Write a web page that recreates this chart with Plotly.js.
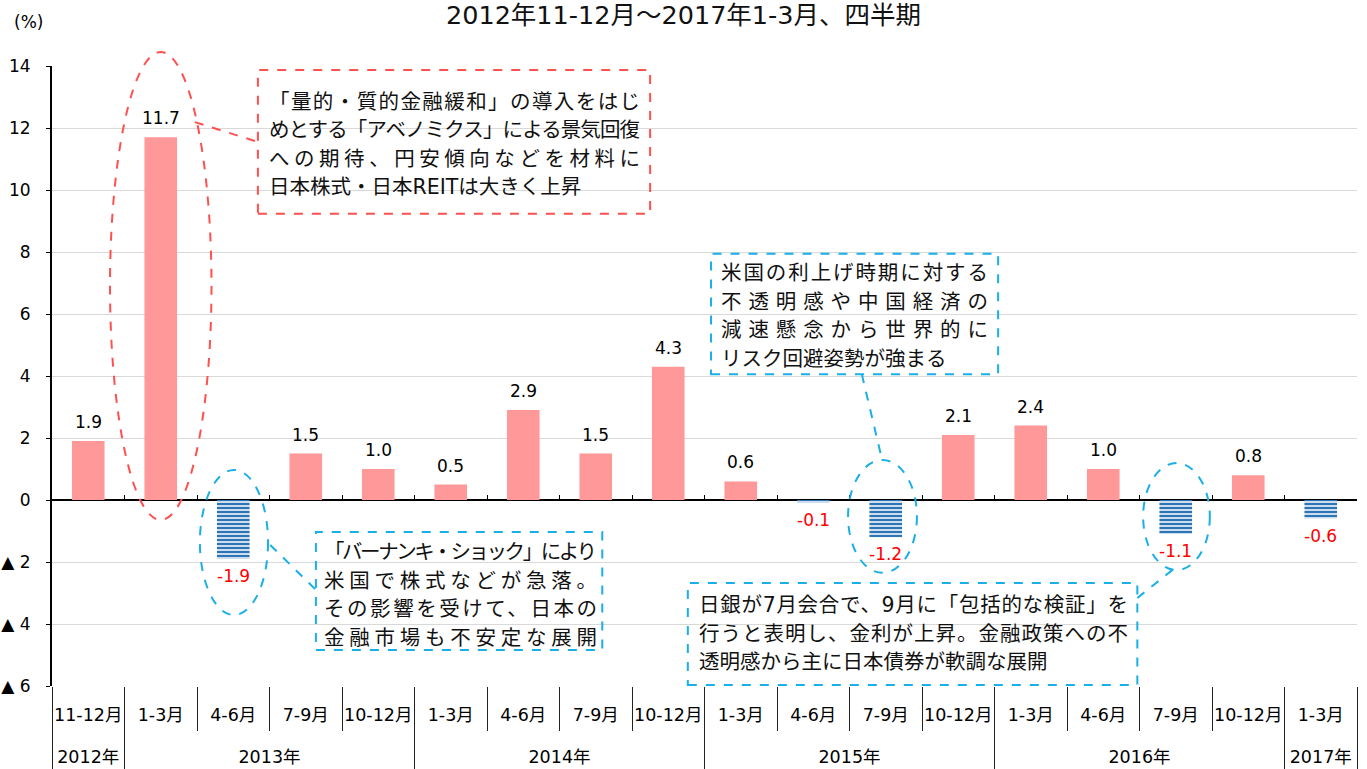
<!DOCTYPE html>
<html>
<head>
<meta charset="utf-8">
<script src="https://cdn.plot.ly/plotly-3.0.1.min.js"></script>
<style>
html,body{margin:0;padding:0;background:#fff;}
#chart{width:1367px;height:769px;}
</style>
</head>
<body>
<div id="chart"></div>
<script>
// ---- data ----
const years = ['2012年','2013年','2013年','2013年','2013年','2014年','2014年','2014年','2014年','2015年','2015年','2015年','2015年','2016年','2016年','2016年','2016年','2017年'];
const quarters = ['11-12月','1-3月','4-6月','7-9月','10-12月','1-3月','4-6月','7-9月','10-12月','1-3月','4-6月','7-9月','10-12月','1-3月','4-6月','7-9月','10-12月','1-3月'];
const changes = [1.9, 11.7, -1.9, 1.5, 1.0, 0.5, 2.9, 1.5, 4.3, 0.6, -0.1, -1.2, 2.1, 2.4, 1.0, -1.1, 0.8, -0.6];
const yTickVals = [-6, -4, -2, 0, 2, 4, 6, 8, 10, 12, 14];
const yTickText = ['▲ 6', '▲ 4', '▲ 2', '0', '2', '4', '6', '8', '10', '12', '14'];
const titleText = '2012年11-12月～2017年1-3月、四半期';
const note1 = ['「量的・質的金融緩和」の導入をはじ', 'めとする「アベノミクス」による景気回復', 'への期待、円安傾向などを材料に', '日本株式・日本REITは大きく上昇'];
const note2 = ['「バーナンキ・ショック」により', '米国で株式などが急落。', 'その影響を受けて、日本の', '金融市場も不安定な展開'];
const note3 = ['米国の利上げ時期に対する', '不透明感や中国経済の', '減速懸念から世界的に', 'リスク回避姿勢が強まる'];
const note4 = ['日銀が7月会合で、9月に「包括的な検証」を', '行うと表明し、金利が上昇。金融政策への不', '透明感から主に日本債券が軟調な展開'];

const FONT = 'DejaVu Sans, "Noto Sans CJK JP", sans-serif';
const RED = '#FF5050';
const BLUE = '#1AAFE6';
const idx = quarters.map((_, i) => i);
const N = quarters.length;

// year groups (derived from years array)
const yearNames = [], yearMembers = [], yearBounds = [-0.5];
years.forEach((y, i) => {
  if (i === 0 || years[i - 1] !== y) { yearNames.push(y); yearMembers.push([i]); if (i > 0) yearBounds.push(i - 0.5); }
  else yearMembers[yearMembers.length - 1].push(i);
});
yearBounds.push(N - 0.5);
const yearMid = yearMembers.map(a => (a[0] + a[a.length - 1]) / 2);
const qBounds = idx.map(i => i - 0.5).concat([N - 0.5]);

const posTrace = {
  type: 'bar', xaxis: 'x', yaxis: 'y',
  x: idx, y: changes.map(v => v >= 0 ? v : null),
  width: 0.45,
  marker: {color: '#FF9999', line: {width: 0}},
  hoverinfo: 'skip', showlegend: false
};
const negTrace = {
  type: 'bar', xaxis: 'x', yaxis: 'y',
  x: idx, y: changes.map(v => v < 0 ? v : null),
  width: 0.45,
  marker: {color: '#DCE9F5', line: {width: 0},
    pattern: {shape: '-', fgcolor: '#2E75B6', bgcolor: '#DCE9F5', size: 4, solidity: 0.55}},
  hoverinfo: 'skip', showlegend: false
};
function ghost(ax) {
  return {type: 'scatter', mode: 'markers', xaxis: ax, yaxis: 'y', x: [0, N - 1], y: [0, 0],
    marker: {opacity: 0, size: 1}, hoverinfo: 'skip', showlegend: false};
}

const annotations = [];
changes.forEach((v, i) => {
  annotations.push({
    xref: 'x', yref: 'y', x: i, y: v,
    text: v.toFixed(1), showarrow: false,
    xanchor: 'center', yanchor: v >= 0 ? 'bottom' : 'top',
    yshift: v >= 0 ? 7 : -5,
    font: {family: FONT, size: 17, color: v >= 0 ? '#000' : '#FF0000'}
  });
});
const LSTEP = 28.5 / 31; // line step in y units
const justifyJobs = [];
function note(lines, x, yFirst, rightPx, justify) {
  lines.forEach((t, k) => {
    if (justify[k]) justifyJobs.push({index: annotations.length, right: rightPx, n: Array.from(t).length});
    annotations.push({xref: 'x', yref: 'y', x: x, y: yFirst - k * LSTEP, text: t, showarrow: false,
      xanchor: 'left', yanchor: 'middle', align: 'left',
      font: {family: FONT, size: 20.5, color: '#111'}});
  });
}
note(note1, 2.46, 12.85, 640, [1, 1, 1, 0]);
note(note2, 3.22, -1.68, 597, [1, 1, 1, 1]);
note(note3, 8.70, 7.32, 988, [1, 1, 1, 0]);
note(note4, 8.39, -3.39, 1128, [1, 1, 0]);
annotations.push({xref: 'paper', yref: 'paper', x: -0.031, y: (686 - 22) / 620, text: '(%)', showarrow: false,
  xanchor: 'left', yanchor: 'middle', font: {family: FONT, size: 17, color: '#000'}});

const dl = (c) => ({color: c, width: 2, dash: 'dash'});
const py = (p) => (686 - p) / 620; // paper y helper for the shape outside plot top
const shapes = [
  {type: 'rect', xref: 'x', yref: 'y', x0: 2.34, x1: 7.75, y0: 9.23, y1: 13.87, line: dl(RED)},
  {type: 'circle', xref: 'x', yref: 'paper', x0: 0.30, x1: 1.70, y0: py(520), y1: py(52), line: dl(RED)},
  {type: 'line', xref: 'x', yref: 'y', x0: 1.47, x1: 2.34, y0: 12.19, y1: 11.55, line: dl(RED)},

  {type: 'rect', xref: 'x', yref: 'y', x0: 3.14, x1: 7.09, y0: -4.84, y1: -1.03, line: dl(BLUE)},
  {type: 'circle', xref: 'x', yref: 'y', x0: 1.54, x1: 2.48, y0: -3.71, y1: 0.97, line: dl(BLUE)},
  {type: 'line', xref: 'x', yref: 'y', x0: 2.51, x1: 3.14, y0: -1.45, y1: -2.90, line: dl(BLUE)},

  {type: 'rect', xref: 'x', yref: 'y', x0: 8.59, x1: 12.55, y0: 4.06, y1: 7.94, line: dl(BLUE)},
  {type: 'circle', xref: 'x', yref: 'y', x0: 10.48, x1: 11.43, y0: -2.35, y1: 1.29, line: dl(BLUE)},
  {type: 'line', xref: 'x', yref: 'y', x0: 10.67, x1: 10.95, y0: 4.06, y1: 1.29, line: dl(BLUE)},

  {type: 'rect', xref: 'x', yref: 'y', x0: 8.27, x1: 14.47, y0: -5.97, y1: -2.68, line: dl(BLUE)},
  {type: 'circle', xref: 'x', yref: 'y', x0: 14.55, x1: 15.47, y0: -2.26, y1: 1.19, line: dl(BLUE)},
  {type: 'line', xref: 'x', yref: 'y', x0: 14.47, x1: 14.99, y0: -3.16, y1: -2.19, line: dl(BLUE)}
];

const RANGE = [-0.5, N - 0.5];
const baseX = {range: RANGE, showgrid: false, zeroline: false, showline: false, fixedrange: true, automargin: false};
const layout = {
  width: 1367, height: 769,
  margin: {l: 52, r: 10, t: 66, b: 83},
  paper_bgcolor: '#fff', plot_bgcolor: '#fff',
  font: {family: FONT, color: '#000'},
  title: {text: titleText, x: 0.5, xref: 'container', y: 1 - 15 / 769, yref: 'container', yanchor: 'middle',
    font: {family: FONT, size: 25.5, color: '#111'}},
  barmode: 'overlay',
  xaxis: Object.assign({}, baseX, {
    tickmode: 'array', tickvals: idx, ticktext: quarters, ticks: '', tickangle: 0,
    ticklabelstandoff: 16, tickfont: {family: FONT, size: 17.5, color: '#000'}
  }),
  xaxis2: Object.assign({}, baseX, {
    overlaying: 'x', anchor: 'free', position: 0.3,
    tickmode: 'array', tickvals: qBounds, ticks: 'inside', ticklen: 5, tickcolor: '#000', tickwidth: 1,
    showticklabels: false
  }),
  xaxis3: Object.assign({}, baseX, {
    overlaying: 'x', anchor: 'free', position: 0,
    tickmode: 'array', tickvals: yearMid, ticktext: yearNames, ticks: '', tickangle: 0,
    ticklabelstandoff: 58, tickfont: {family: FONT, size: 17.5, color: '#000'}
  }),
  xaxis4: Object.assign({}, baseX, {
    overlaying: 'x', anchor: 'free', position: 0,
    tickmode: 'array', tickvals: qBounds, ticks: 'outside', ticklen: 44, tickcolor: '#222', tickwidth: 1,
    showticklabels: false
  }),
  xaxis5: Object.assign({}, baseX, {
    overlaying: 'x', anchor: 'free', position: 0,
    tickmode: 'array', tickvals: yearBounds, ticks: 'outside', ticklen: 90, tickcolor: '#222', tickwidth: 1,
    showticklabels: false
  }),
  yaxis: {
    range: [-6, 14], tickmode: 'array', tickvals: yTickVals, ticktext: yTickText,
    showgrid: true, gridcolor: '#D9D9D9', gridwidth: 1,
    zeroline: true, zerolinecolor: '#000', zerolinewidth: 2,
    showline: true, linecolor: '#000', linewidth: 2,
    ticks: 'outside', ticklen: 4, tickcolor: '#000', tickwidth: 1,
    ticklabelstandoff: 12,
    tickfont: {family: FONT, size: 17, color: '#000'},
    automargin: false, fixedrange: true
  },
  annotations: annotations,
  shapes: shapes
};

Plotly.newPlot('chart', [posTrace, negTrace, ghost('x2'), ghost('x3'), ghost('x4'), ghost('x5')], layout,
  {displayModeBar: false, staticPlot: true}).then(function (gd) {
  // distribute (justify) note lines across their box width, like the original text boxes
  justifyJobs.forEach(function (job) {
    const g = gd.querySelector('.annotation[data-index="' + job.index + '"]');
    if (!g) return;
    const t = g.querySelector('text.annotation-text');
    if (!t) return;
    const r = t.getBoundingClientRect();
    const ls = (job.right - r.right) / Math.max(1, job.n - 1);
    t.style.letterSpacing = ls.toFixed(2) + 'px';
  });
});
</script>
</body>
</html>
